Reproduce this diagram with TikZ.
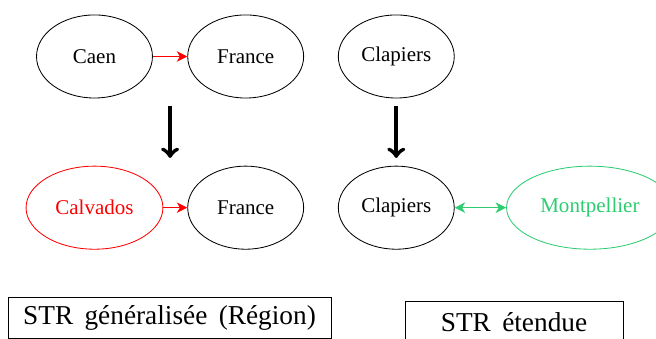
\documentclass[tikz,border=0pt]{standalone}
\usepackage{fontspec}
\setmainfont{Liberation Serif}
\usetikzlibrary{arrows.meta,calc,shapes.geometric,positioning}
\definecolor{vertmont}{RGB}{46,204,113}

\begin{document}
\begin{tikzpicture}[>={Stealth[length=5pt,width=5pt,inset=1.5pt]},
  ville/.style={draw,ellipse,minimum width=1.94cm,minimum height=1.39cm,inner sep=0pt},
  passage/.style={-to,line width=2pt,shorten <=0.13cm,shorten >=0.13cm},
  legende/.style={draw,font=\fontsize{13}{15}\selectfont,minimum height=0.69cm}]
\useasboundingbox (-1.581,0.945) rectangle (9.396,-4.711);
% avant
\node[ville] (caen) at (0,0) {Caen};
\node[ville] (fr1) at (2.53,0) {France};
\node[ville] (clap1) at (5.05,0) {Clapiers};
% apres
\node[ville,red,minimum width=2.29cm] (calv) at (0,-2.53) {Calvados};
\node[ville] (fr2) at (2.53,-2.53) {France};
\node[ville] (clap2) at (5.05,-2.53) {Clapiers};
\node[ville,vertmont,minimum width=2.79cm] (mont) at (8.29,-2.53) {Montpellier};
\draw[->,red] (caen) -- (fr1);
\draw[->,red] (calv) -- (fr2);
\draw[<->,vertmont,semithick] (clap2) -- (mont);
\coordinate (haut) at ($(caen.south)!.5!(fr1.south)$);
\coordinate (bas) at ($(calv.north)!.5!(fr2.north)$);
\draw[passage] (haut) -- (bas);
\draw[passage] (clap1) -- (clap2);
% legendes
\node[legende,minimum width=5.405cm] (gen) at (1.255,-4.376) {STR~\,généralisée~\,(Région)};
\node[legende,minimum width=3.648cm] (ete) at (7.02,-4.443) {STR~\,étendue};
\end{tikzpicture}
\end{document}
